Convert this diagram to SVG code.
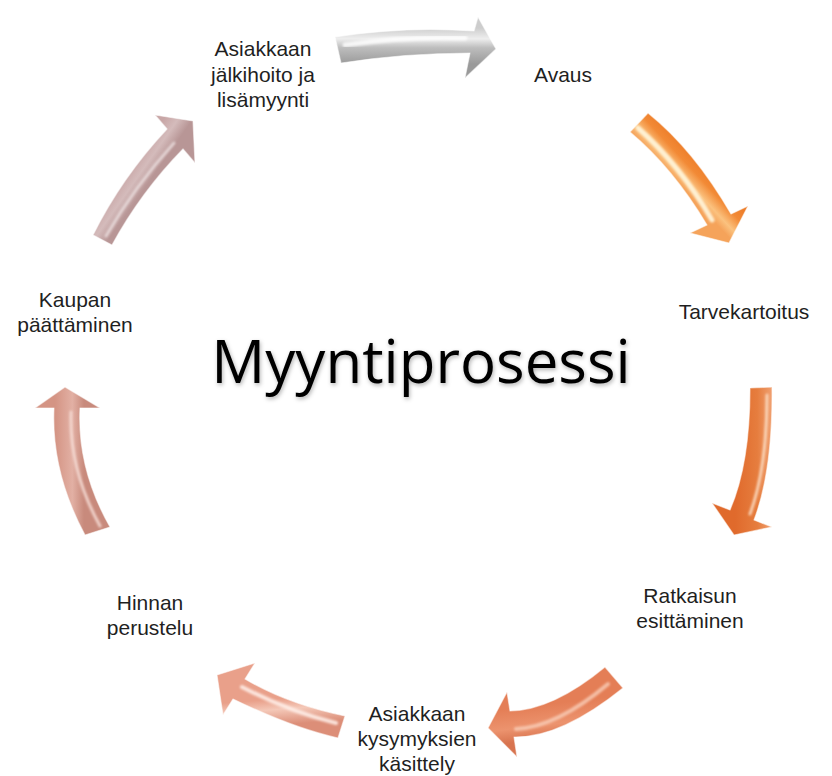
<svg xmlns="http://www.w3.org/2000/svg" width="832" height="776" viewBox="0 0 832 776">
  <style>
    .lbl { font-family: "Liberation Sans", Arial, sans-serif; font-size: 21px; fill: #1f1f1f; text-anchor: middle; }
    .title { font-family: "Open Sans", "Liberation Sans", sans-serif; font-size: 60px; fill: #000000; text-anchor: middle; }
    .arrow { stroke: #ffffff; stroke-opacity: 0.55; stroke-width: 1.2; stroke-linejoin: round; }
    .hl { fill: none; stroke-linecap: round; filter: url(#soft); }
  </style>
  <defs>
    <filter id="soft" x="-20%" y="-20%" width="140%" height="140%">
      <feGaussianBlur stdDeviation="1.3"/>
    </filter>
    <filter id="tshadow" x="-10%" y="-30%" width="120%" height="160%">
      <feDropShadow dx="1" dy="2" stdDeviation="2" flood-color="#000000" flood-opacity="0.3"/>
    </filter>
    <linearGradient id="g1" gradientUnits="userSpaceOnUse" x1="0" y1="28" x2="0" y2="64">
      <stop offset="0" stop-color="#cdcdcd"/>
      <stop offset="0.3" stop-color="#eeeeee"/>
      <stop offset="0.55" stop-color="#bdbdbd"/>
      <stop offset="1" stop-color="#9a9a9a"/>
    </linearGradient>
    <linearGradient id="g2" gradientUnits="userSpaceOnUse" x1="700" y1="150" x2="672" y2="176">
      <stop offset="0" stop-color="#e9731f"/>
      <stop offset="0.5" stop-color="#f28a36"/>
      <stop offset="0.8" stop-color="#fbc27f"/>
      <stop offset="1" stop-color="#f5a35a"/>
    </linearGradient>
    <linearGradient id="g3" gradientUnits="userSpaceOnUse" x1="735" y1="460" x2="772" y2="460">
      <stop offset="0" stop-color="#e06a2c"/>
      <stop offset="0.6" stop-color="#e67d3e"/>
      <stop offset="1" stop-color="#f0a070"/>
    </linearGradient>
    <linearGradient id="g4" gradientUnits="userSpaceOnUse" x1="557" y1="703" x2="561" y2="737">
      <stop offset="0" stop-color="#e47e56"/>
      <stop offset="0.6" stop-color="#ec936e"/>
      <stop offset="1" stop-color="#d8744f"/>
    </linearGradient>
    <linearGradient id="g5" gradientUnits="userSpaceOnUse" x1="290" y1="698" x2="292" y2="724">
      <stop offset="0" stop-color="#e9a08a"/>
      <stop offset="0.4" stop-color="#f4c8b8"/>
      <stop offset="1" stop-color="#dc8e78"/>
    </linearGradient>
    <linearGradient id="g6" gradientUnits="userSpaceOnUse" x1="55" y1="470" x2="84" y2="470">
      <stop offset="0" stop-color="#d49484"/>
      <stop offset="0.6" stop-color="#e2b0a4"/>
      <stop offset="1" stop-color="#c88a7c"/>
    </linearGradient>
    <linearGradient id="g7" gradientUnits="userSpaceOnUse" x1="122" y1="178" x2="142" y2="192">
      <stop offset="0" stop-color="#c8a6a6"/>
      <stop offset="0.5" stop-color="#d4bbbb"/>
      <stop offset="1" stop-color="#b89696"/>
    </linearGradient>
  </defs>

  <rect x="0" y="0" width="832" height="776" fill="#ffffff"/>

  <g id="connectors">
    <g id="arrow-1">
      <path class="arrow" fill="url(#g1)" d="M335,37 Q405,26 474,31 L478,17 L496,49 L465,78 L470,53 Q405,53 341,63 Z"/>
      <path class="hl" stroke="#ffffff" stroke-width="5" stroke-opacity="0.8" d="M345,45 Q405,36 465,38"/>
    </g>
    <g id="arrow-2">
      <path class="arrow" fill="url(#g2)" d="M648,113 Q694,150 731,214 L748,206 L729,243 L690,233 L707,225 Q673,168 630,132 Z"/>
      <path class="hl" stroke="#fff6dc" stroke-width="5" stroke-opacity="0.9" d="M638,128 Q680,165 712,220"/>
    </g>
    <g id="arrow-3">
      <path class="arrow" fill="url(#g3)" d="M772,387 Q773,470 754,520 L772,527 L734,535 L712,503 L730,510 Q750,464 750,388 Z"/>
      <path class="hl" stroke="#fbd8bc" stroke-width="3" stroke-opacity="0.9" d="M767,395 Q767,468 750,514"/>
    </g>
    <g id="arrow-4">
      <path class="arrow" fill="url(#g4)" d="M605,667 Q553,710 510,711 L507,692 L488,728 L517,757 L514,737 Q561,738 623,688 Z"/>
      <path class="hl" stroke="#f9cdb8" stroke-width="4" stroke-opacity="0.8" d="M608,684 Q557,727 516,729"/>
    </g>
    <g id="arrow-5">
      <path class="arrow" fill="url(#g5)" d="M345,716 Q287,704 245,679 L255,663 L217,675 L223,715 L233,699 Q293,728 338,738 Z"/>
      <path class="hl" stroke="#fff0ea" stroke-width="4" stroke-opacity="0.85" d="M336,723 Q290,712 242,687"/>
    </g>
    <g id="arrow-6">
      <path class="arrow" fill="url(#g6)" d="M85,535 Q51,472 54,408 L35,408 L65,387 L100,408 L80,408 Q77,469 110,527 Z"/>
      <path class="hl" stroke="#f6dcd5" stroke-width="3" stroke-opacity="0.85" d="M100,526 Q69,470 71,412"/>
    </g>
    <g id="arrow-7">
      <path class="arrow" fill="url(#g7)" d="M93,235 Q122,177 167,129 L155,115 L193,121 L195,163 L183,149 Q141,192 112,245 Z"/>
      <path class="hl" stroke="#ece0e0" stroke-width="3" stroke-opacity="0.8" d="M106,236 Q135,186 174,143"/>
    </g>
  </g>

  <g id="title">
    <text class="title" x="421" y="383" filter="url(#tshadow)">Myyntiprosessi</text>
  </g>

  <g id="node-avaus">
    <text class="lbl" x="563" y="82">Avaus</text>
  </g>
  <g id="node-tarvekartoitus">
    <text class="lbl" x="744" y="319">Tarvekartoitus</text>
  </g>
  <g id="node-ratkaisun-esittaminen">
    <text class="lbl" x="690" y="603">Ratkaisun</text>
    <text class="lbl" x="690" y="628">esittäminen</text>
  </g>
  <g id="node-asiakkaan-kysymyksien-kasittely">
    <text class="lbl" x="417" y="721">Asiakkaan</text>
    <text class="lbl" x="417" y="746">kysymyksien</text>
    <text class="lbl" x="417" y="771">käsittely</text>
  </g>
  <g id="node-hinnan-perustelu">
    <text class="lbl" x="150" y="610">Hinnan</text>
    <text class="lbl" x="150" y="635">perustelu</text>
  </g>
  <g id="node-kaupan-paattaminen">
    <text class="lbl" x="75" y="307">Kaupan</text>
    <text class="lbl" x="75" y="332">päättäminen</text>
  </g>
  <g id="node-asiakkaan-jalkihoito">
    <text class="lbl" x="263" y="56">Asiakkaan</text>
    <text class="lbl" x="263" y="81.5">jälkihoito ja</text>
    <text class="lbl" x="263" y="107">lisämyynti</text>
  </g>
</svg>
